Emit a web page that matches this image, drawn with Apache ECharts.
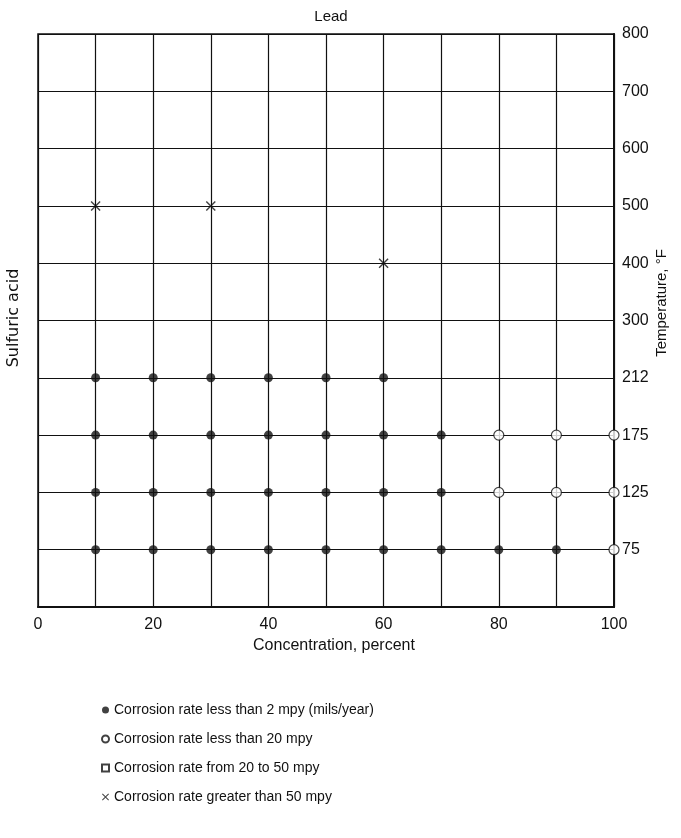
<!DOCTYPE html>
<html>
<head>
<meta charset="utf-8">
<script src="https://cdn.jsdelivr.net/npm/echarts@6/dist/echarts.min.js"></script>
<style>
  html, body { margin: 0; padding: 0; background: #fff; }
  #chart { width: 681px; height: 838px; }
</style>
</head>
<body>
<div id="chart"></div>
<script>
// temperature rows, bottom (empty) row first
const tempLabels = ['', '75', '125', '175', '212', '300', '400', '500', '600', '700', '800'];
// concentration in percent, temperature row
const lessThan2 = [
  [10, '212'], [20, '212'], [30, '212'], [40, '212'], [50, '212'], [60, '212'],
  [10, '175'], [20, '175'], [30, '175'], [40, '175'], [50, '175'], [60, '175'], [70, '175'],
  [10, '125'], [20, '125'], [30, '125'], [40, '125'], [50, '125'], [60, '125'], [70, '125'],
  [10, '75'], [20, '75'], [30, '75'], [40, '75'], [50, '75'], [60, '75'], [70, '75'], [80, '75'], [90, '75']
];
const lessThan20 = [
  [80, '175'], [90, '175'], [100, '175'],
  [80, '125'], [90, '125'], [100, '125'],
  [100, '75']
];
const from20to50 = [];
const greaterThan50 = [[10, '500'], [30, '500'], [60, '400']];

const legendNames = [
  'Corrosion rate less than 2 mpy (mils/year)',
  'Corrosion rate less than 20 mpy',
  'Corrosion rate from 20 to 50 mpy',
  'Corrosion rate greater than 50 mpy'
];

const FONT = '"Liberation Sans", Arial, sans-serif';
const INK = '#111';
const crossPath = 'path://M0,1L1,0L5,4L9,0L10,1L6,5L10,9L9,10L5,6L1,10L0,9L4,5Z';

let chart = echarts.init(document.getElementById('chart'));
chart.setOption({
  animation: false,
  backgroundColor: '#fff',
  textStyle: { fontFamily: FONT },
  title: {
    text: 'Lead',
    left: 326,
    top: 4,
    textAlign: 'center',
    textStyle: { fontSize: 15, fontWeight: 'normal', color: INK, fontFamily: FONT }
  },
  grid: {
    left: 38, right: 67, top: 34, bottom: 231,
    show: true,
    borderColor: INK,
    borderWidth: 1.5
  },
  legend: {
    orient: 'vertical',
    left: 96,
    top: 697,
    itemGap: 13,
    itemWidth: 7,
    itemHeight: 7,
    textStyle: { fontSize: 14, color: INK, fontFamily: FONT, lineHeight: 16 },
    data: legendNames
  },
  xAxis: {
    type: 'value',
    min: 0,
    max: 100,
    interval: 10,
    name: 'Concentration, percent',
    nameLocation: 'middle',
    nameGap: 22,
    nameTextStyle: { fontSize: 16, color: INK, padding: [0, 0, 0, 16] },
    axisLine: { show: true, lineStyle: { color: INK, width: 2 } },
    axisTick: { show: false },
    axisLabel: {
      fontSize: 16,
      color: INK,
      margin: 10,
      formatter: v => (v % 20 === 0 ? String(v) : '')
    },
    splitLine: { show: true, lineStyle: { color: INK, width: 1.2 } }
  },
  yAxis: {
    type: 'category',
    position: 'right',
    boundaryGap: false,
    data: tempLabels,
    axisLine: { show: true, onZero: false, lineStyle: { color: INK, width: 2 } },
    axisTick: { show: false },
    axisLabel: { fontSize: 16, color: INK, margin: 8 },
    splitLine: { show: true, lineStyle: { color: INK, width: 1.2 } }
  },
  graphic: [
    {
      type: 'text',
      x: 14, y: 318,
      rotation: Math.PI / 2,
      style: { text: 'Sulfuric acid', font: '16px "DejaVu Sans", sans-serif', fill: INK, align: 'center', verticalAlign: 'middle' }
    },
    {
      type: 'text',
      x: 662, y: 303,
      rotation: Math.PI / 2,
      style: { text: 'Temperature, °F', font: '15px ' + FONT, fill: INK, align: 'center', verticalAlign: 'middle' }
    }
  ],
  series: [
    {
      name: legendNames[0],
      type: 'scatter',
      symbol: 'circle',
      symbolSize: 9,
      itemStyle: { color: INK },
      data: lessThan2
    },
    {
      name: legendNames[1],
      type: 'scatter',
      symbol: 'circle',
      symbolSize: 10,
      itemStyle: { color: '#fff', borderColor: INK, borderWidth: 1.2 },
      data: lessThan20
    },
    {
      name: legendNames[2],
      type: 'scatter',
      symbol: 'rect',
      symbolSize: 8,
      itemStyle: { color: '#fff', borderColor: INK, borderWidth: 1.2 },
      data: from20to50
    },
    {
      name: legendNames[3],
      type: 'scatter',
      symbol: crossPath,
      symbolSize: 10,
      itemStyle: { color: INK },
      data: greaterThan50
    }
  ]
});
</script>
</body>
</html>
